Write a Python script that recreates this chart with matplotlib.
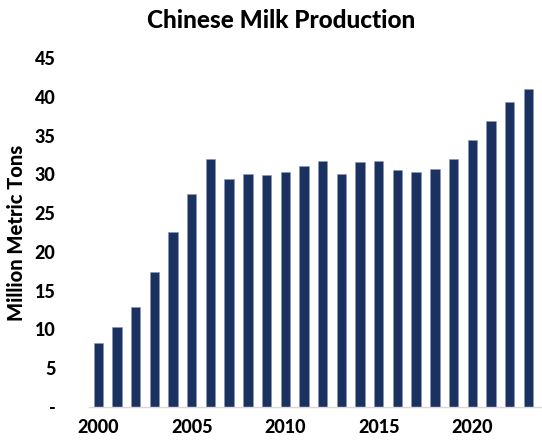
import numpy as np
import matplotlib
matplotlib.use('Agg')
import matplotlib.pyplot as plt

plt.rcParams['font.family'] = ['Lato', 'DejaVu Sans']

years = np.arange(2000, 2024)
production = [8.25, 10.26, 12.96, 17.47, 22.55, 27.5, 31.95, 29.46, 30.06, 29.93,
              30.36, 31.1, 31.74, 30.0, 31.57, 31.78, 30.6, 30.36, 30.75, 32.0,
              34.45, 36.86, 39.34, 40.98]
ytick_vals = [0, 5, 10, 15, 20, 25, 30, 35, 40, 45]
ytick_labels = ['-', '5', '10', '15', '20', '25', '30', '35', '40', '45']
xtick_vals = [2000, 2005, 2010, 2015, 2020]

bar_color = '#1b3160'

fig = plt.figure(figsize=(5.42, 4.45), dpi=100)
ax = fig.add_axes([0.164, 0.0854, 0.836, 0.784])

ax.bar(years, production, width=0.5, color=bar_color, edgecolor='#8a97b3', linewidth=0.4)

ax.set_xlim(1999.5, 2023.73)
ax.set_ylim(0, 45)
ax.set_yticks(ytick_vals)
ax.set_yticklabels(ytick_labels)
ax.set_xticks(xtick_vals)
ax.set_xticklabels([str(x) for x in xtick_vals])

for s in ['top', 'right', 'left']:
    ax.spines[s].set_visible(False)
ax.spines['bottom'].set_color('#d9d9d9')
ax.spines['bottom'].set_linewidth(1.0)
ax.tick_params(axis='both', length=0, labelsize=13)
ax.tick_params(axis='y', pad=24)
ax.tick_params(axis='x', pad=9)
for lbl in ax.get_xticklabels() + ax.get_yticklabels():
    lbl.set_fontweight('black')

ax.set_ylabel('Million Metric Tons', fontsize=14.5, fontweight='black', labelpad=6)
fig.text(0.518, 0.955, 'Chinese Milk Production', ha='center', va='center',
         fontsize=17.5, fontweight='black')

plt.savefig('out.png', dpi=100)
